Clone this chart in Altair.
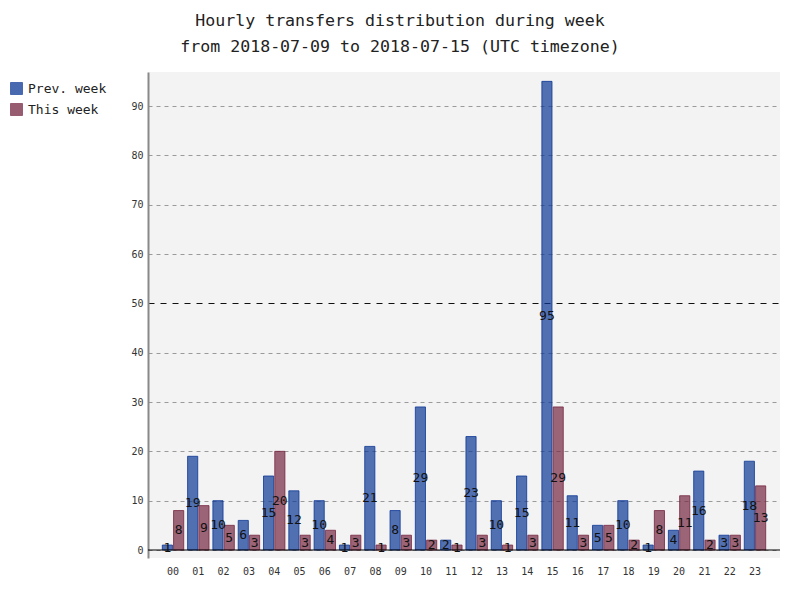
import altair as alt
import pandas as pd

hours = ["00", "01", "02", "03", "04", "05", "06", "07", "08", "09", "10", "11",
         "12", "13", "14", "15", "16", "17", "18", "19", "20", "21", "22", "23"]
prev_week = [1, 19, 10, 6, 15, 12, 10, 1, 21, 8, 29, 2,
             23, 10, 15, 95, 11, 5, 10, 1, 4, 16, 3, 18]
this_week = [8, 9, 5, 3, 20, 3, 4, 3, 1, 3, 2, 1,
             3, 1, 3, 29, 3, 5, 2, 8, 11, 2, 3, 13]
series = ["Prev. week", "This week"]
colors = ["rgb(12,55,149)", "rgb(117,38,65)"]
y_ticks = [0, 10, 20, 30, 40, 50, 60, 70, 80, 90]
title_lines = ["Hourly transfers distribution during week",
               "from 2018-07-09 to 2018-07-15 (UTC timezone)"]

rows = []
for h, p, t in zip(hours, prev_week, this_week):
    rows.append({"hour": h, "series": series[0], "value": p})
    rows.append({"hour": h, "series": series[1], "value": t})
df = pd.DataFrame(rows)

FONT = "DejaVu Sans Mono"

x_enc = alt.X("hour:N", sort=hours,
              scale=alt.Scale(paddingInner=0.154, paddingOuter=0.565),
              axis=alt.Axis(title=None, labelAngle=0, ticks=False, domain=False,
                            grid=False, labelFont=FONT, labelFontSize=10,
                            labelColor="#333", labelPadding=8))
y_scale = alt.Scale(domain=[-1.62, 96.9], nice=False, zero=False)
xoff = alt.XOffset("series:N", sort=series, scale=alt.Scale(paddingInner=0.1))

bars = alt.Chart(df).mark_bar(fillOpacity=0.7, strokeOpacity=0.8, strokeWidth=1).encode(
    x=x_enc,
    xOffset=xoff,
    y=alt.Y("value:Q", scale=y_scale,
            axis=alt.Axis(title=None, values=y_ticks, ticks=False, labelFont=FONT,
                          labelFontSize=10, labelColor="#333", labelPadding=5,
                          domainColor="#8a8a8a", domainWidth=2,
                          grid=True,
                          gridColor=alt.condition("datum.value == 50", alt.value("#111111"), alt.value("#9a9a9a")),
                          gridDash=alt.condition("datum.value == 50", alt.value([6, 6]), alt.value([4, 4])),
                          gridWidth=1)),
    y2=alt.datum(0),
    color=alt.Color("series:N", sort=series,
                    scale=alt.Scale(domain=series, range=colors),
                    legend=alt.Legend(title=None, orient="none", legendX=-138, legendY=10,
                                      symbolType="square", symbolSize=144,
                                      symbolOpacity=0.75, symbolStrokeWidth=1,
                                      labelFont=FONT, labelFontSize=13, labelColor="#222",
                                      labelOffset=5, rowPadding=4, padding=0)),
    stroke=alt.Stroke("series:N", sort=series,
                      scale=alt.Scale(domain=series, range=colors), legend=None),
)

zero_line = alt.Chart(pd.DataFrame({"z": [0]})).mark_rule(color="black", strokeWidth=1).encode(
    y=alt.Y("z:Q", scale=y_scale)
)

labels = alt.Chart(df).mark_text(font=FONT, fontSize=13, color="#111",
                                 baseline="middle", align="center").encode(
    x=alt.X("hour:N", sort=hours),
    xOffset=xoff,
    y=alt.Y("mid:Q", scale=y_scale),
    text=alt.Text("value:Q"),
).transform_calculate(mid="datum.value / 2")

chart = alt.layer(bars, zero_line, labels).properties(
    width=632,
    height=486,
    autosize=alt.AutoSizeParams(type="none"),
    padding={"left": 140, "top": 64, "right": 12, "bottom": 34},
    title=alt.TitleParams(text=title_lines, font=FONT, fontSize=16.6, fontWeight="normal",
                          color="#222", anchor="middle", dx=-64, offset=16, lineHeight=26),
).configure_view(fill="#f3f3f3", stroke=None)

chart.save("out.html", embed_options={"renderer": "svg", "actions": False})
